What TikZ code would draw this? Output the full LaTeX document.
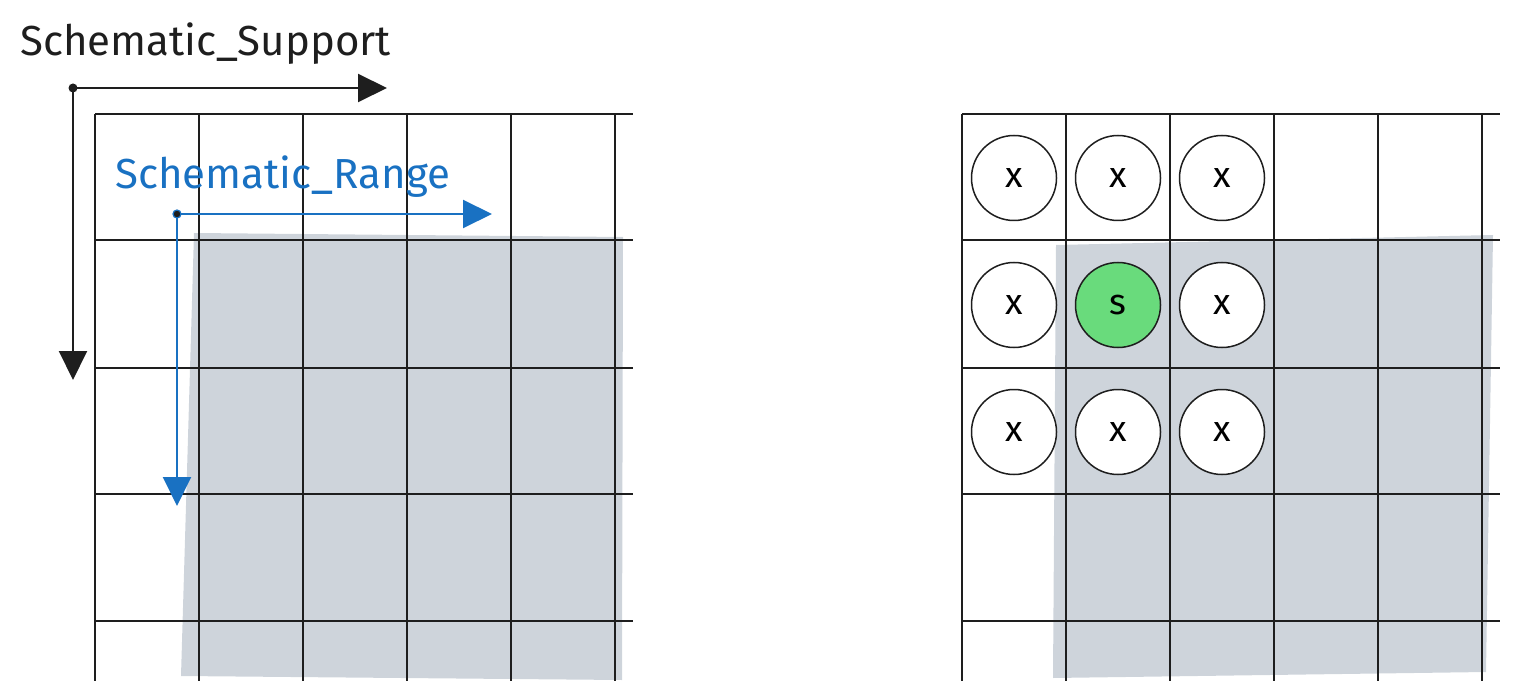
\documentclass[tikz,border=0pt]{standalone}
\usepackage{fontspec}
\setmainfont{Fira Sans}
\usetikzlibrary{arrows.meta}
\definecolor{ink}{HTML}{1E1E1E}
\definecolor{zonegrey}{HTML}{CED4DB}
\definecolor{rangeblue}{HTML}{1971C2}
\definecolor{seedgreen}{HTML}{69DB7C}
\tikzset{
  gridln/.style ={draw=ink,line width=1pt},
  zone/.style   ={fill=zonegrey},
  cell/.style   ={circle,draw=ink,line width=0.75pt,fill=white,
                  minimum size=42.5pt,inner sep=0pt,
                  font=\fontsize{18}{18}\selectfont},
  seed/.style   ={cell,fill=seedgreen},
  lbl/.style    ={anchor=base west,inner sep=0pt,
                  font=\fontsize{21}{24}\selectfont},
  ar/.style     ={-{Triangle[length=14.5pt,width=14pt]},line width=1pt},
}

\begin{document}
\begin{tikzpicture}[x=0.5pt,y=-0.5pt]
\useasboundingbox (0,0) rectangle (1520,700);
% shaded areas
\path[zone] (194,233) -- (623,237) -- (622,680) -- (181,676) -- cycle;
\path[zone] (1056,245) -- (1493,235) -- (1486,672) -- (1053,678) -- cycle;
% the two grids
\foreach \ox in {95,962}{
  \foreach \y in {114,240,368,494,621}
    \draw[gridln] (\ox,\y) -- ++(538,0);
  \foreach \i in {0,...,5}
    \draw[gridln] (\ox+104*\i,114) -- (\ox+104*\i,681);
}
% neighbourhood cells
\foreach \c/\cx in {0/1014,1/1118,2/1222}{
  \node[cell] (t\c) at (\cx,178) {x};
  \node[cell] (b\c) at (\cx,432) {x};
}
\node[cell] (m0) at (1014,305) {x};
\node[seed] (m1) at (1118,305) {s};
\node[cell] (m2) at (1222,305) {x};
% support axes
\coordinate (so) at (73,88);
\coordinate (sx) at (387,88);
\coordinate (sy) at (73,380);
\draw[ar,ink] (so) -- (sx);
\draw[ar,ink] (so) -- (sy);
\fill[ink] (so) circle (2.25pt);
\node[lbl,text=ink] (sup) at (20,56) {Schematic\_Support};
% range axes
\coordinate (ro) at (177,214);
\coordinate (rx) at (492,214);
\coordinate (ry) at (177,506);
\draw[ar,rangeblue] (ro) -- (rx);
\draw[ar,rangeblue] (ro) -- (ry);
\filldraw[fill=ink,draw=rangeblue,line width=0.6pt] (ro) circle (2pt);
\node[lbl,text=rangeblue] (rng) at (115,189) {Schematic\_Range};
\end{tikzpicture}
\end{document}
